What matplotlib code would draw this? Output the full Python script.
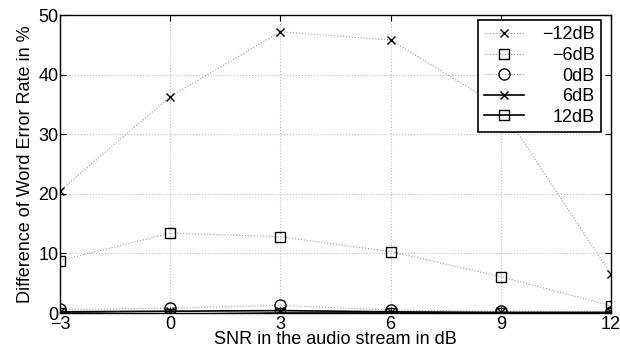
import matplotlib
matplotlib.use("Agg")
import matplotlib.pyplot as plt
from matplotlib.transforms import Affine2D

plt.rcParams['font.family'] = ['Liberation Sans', 'DejaVu Sans']

snr = [-3, 0, 3, 6, 9, 12]
labels = ['\u221212dB', '\u22126dB', '0dB', '6dB', '12dB']
v_m12 = [20.5, 36.3, 47.2, 45.8, 34.5, 6.5]
v_m6 = [8.8, 13.4, 12.8, 10.3, 6.1, 1.2]
v_0 = [0.6, 0.8, 1.3, 0.5, 0.3, 0.2]
v_6 = [0.2, 0.3, 0.4, 0.2, 0.1, 0.1]
v_12 = [0.0, -0.2, 0.0, 0.0, 0.0, 0.0]
xticks = [-3, 0, 3, 6, 9, 12]
yticks = [0, 10, 20, 30, 40, 50]

fig = plt.figure(figsize=(6.2, 3.54), dpi=100)
ax = fig.add_axes([60/620, 1-313/354, (611-60)/620, (313-15)/354])

gray = '#999999'
ax.plot(snr, v_m12, linestyle=':', color=gray, marker='x', mfc='none', mec='black', ms=6, lw=0.8, label=labels[0])
ax.plot(snr, v_m6, linestyle=':', color=gray, marker='s', mfc='none', mec='black', ms=7, lw=0.8, label=labels[1])
ax.plot(snr, v_0, linestyle=':', color=gray, marker='o', mfc='none', mec='black', ms=8, lw=0.8, label=labels[2])
ax.plot(snr, v_6, linestyle='-', color='black', marker='x', mfc='none', mec='black', ms=6, lw=1.2, label=labels[3])
ax.plot(snr, v_12, linestyle='-', color='black', marker='s', mfc='none', mec='black', ms=7, lw=1.2, label=labels[4])

ax.set_xlim(-3, 12)
ax.set_ylim(0, 50)
ax.set_xticks(xticks)
ax.set_yticks(yticks)
ax.set_xticklabels([str(t).replace('-', '\u2212') for t in xticks])
ax.tick_params(direction='in', labelsize=13, length=4)
ax.tick_params(axis='x', pad=2)
ax.tick_params(axis='y', pad=1)
ax.tick_params(top=True, right=True)
ax.grid(True, linestyle=':', color='#bbbbbb', lw=0.8)
for s in ax.spines.values():
    s.set_linewidth(1.0)

ax.set_xlabel('SNR in the audio stream in dB', fontsize=13, labelpad=-1)
ax.set_ylabel('Difference of Word Error Rate in %', fontsize=13, labelpad=3)

leg = ax.legend(loc='upper right', fontsize=13, frameon=True, fancybox=False,
                edgecolor='black', framealpha=1, borderpad=0.35, labelspacing=0.2,
                handlelength=2.2, handletextpad=1.0, borderaxespad=0,
                bbox_to_anchor=(1 - 10/551, 1 - 5/298))
leg.get_frame().set_linewidth(1.2)

fig.canvas.draw()
r = fig.canvas.get_renderer()
widths = [t.get_window_extent(r).width for t in leg.get_texts()]
wmax = max(widths)
for t, w in zip(leg.get_texts(), widths):
    t.set_transform(t.get_transform() + Affine2D().translate(wmax - w, 0))

fig.savefig('out.png', dpi=100)
